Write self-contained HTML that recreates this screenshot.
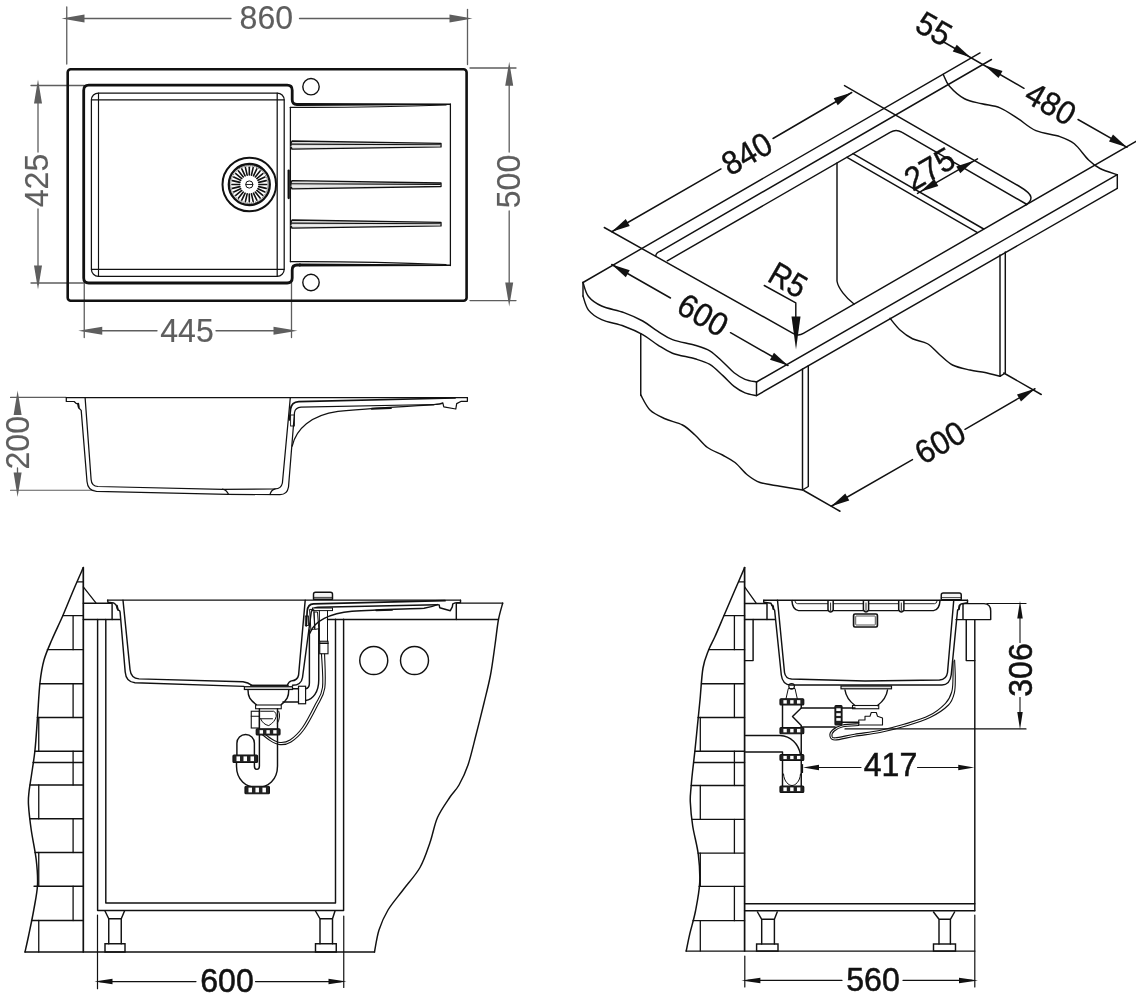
<!DOCTYPE html>
<html><head><meta charset="utf-8"><title>Sink technical drawing</title>
<style>
html,body{margin:0;padding:0;background:#fff;}
svg{display:block;will-change:transform;}
text{font-family:"Liberation Sans",sans-serif;}
path,line,polyline{stroke-linecap:round;stroke-linejoin:round;}
</style></head><body>
<svg width="1136" height="1000" viewBox="0 0 1136 1000">
<rect x="0" y="0" width="1136" height="1000" fill="#fff"/>
<line x1="66.75" y1="7.00" x2="66.75" y2="64.00" stroke="#5e5e5e" stroke-width="1.3" />
<line x1="467.50" y1="9.50" x2="467.50" y2="64.50" stroke="#5e5e5e" stroke-width="1.3" />
<line x1="70.00" y1="18.50" x2="231.00" y2="18.50" stroke="#5e5e5e" stroke-width="1.3" />
<line x1="299.50" y1="18.50" x2="465.00" y2="18.50" stroke="#5e5e5e" stroke-width="1.3" />
<polygon points="61.50,18.50 84.50,14.50 84.50,22.50" fill="#5e5e5e"/>
<polygon points="472.50,18.50 449.50,22.50 449.50,14.50" fill="#5e5e5e"/>
<text transform="translate(266.30,17.30) rotate(0)" x="0" y="11.73" text-anchor="middle" font-size="34" fill="#5e5e5e" stroke="#5e5e5e" stroke-width="0.15" font-weight="normal" textLength="53.5" lengthAdjust="spacingAndGlyphs">860</text>
<line x1="38.00" y1="85.00" x2="38.00" y2="152.00" stroke="#5e5e5e" stroke-width="1.3" />
<line x1="38.00" y1="209.00" x2="38.00" y2="284.00" stroke="#5e5e5e" stroke-width="1.3" />
<polygon points="38.00,79.50 42.00,103.50 34.00,103.50" fill="#5e5e5e"/>
<polygon points="38.00,289.50 34.00,265.50 42.00,265.50" fill="#5e5e5e"/>
<line x1="31.00" y1="85.50" x2="84.00" y2="85.50" stroke="#5e5e5e" stroke-width="1.3" />
<line x1="31.00" y1="283.00" x2="84.00" y2="283.00" stroke="#5e5e5e" stroke-width="1.3" />
<text transform="translate(35.80,180.50) rotate(-90)" x="0" y="11.73" text-anchor="middle" font-size="34" fill="#5e5e5e" stroke="#5e5e5e" stroke-width="0.15" font-weight="normal" textLength="53.5" lengthAdjust="spacingAndGlyphs">425</text>
<line x1="84.25" y1="283.00" x2="84.25" y2="337.50" stroke="#5e5e5e" stroke-width="1.3" />
<line x1="291.50" y1="283.00" x2="291.50" y2="337.50" stroke="#5e5e5e" stroke-width="1.3" />
<line x1="90.00" y1="330.75" x2="157.00" y2="330.75" stroke="#5e5e5e" stroke-width="1.3" />
<line x1="216.00" y1="330.75" x2="290.00" y2="330.75" stroke="#5e5e5e" stroke-width="1.3" />
<polygon points="78.25,330.75 102.25,326.75 102.25,334.75" fill="#5e5e5e"/>
<polygon points="297.50,330.75 273.50,334.75 273.50,326.75" fill="#5e5e5e"/>
<text transform="translate(187.00,330.70) rotate(0)" x="0" y="11.73" text-anchor="middle" font-size="34" fill="#5e5e5e" stroke="#5e5e5e" stroke-width="0.15" font-weight="normal" textLength="53.5" lengthAdjust="spacingAndGlyphs">445</text>
<line x1="509.20" y1="68.00" x2="509.20" y2="152.00" stroke="#5e5e5e" stroke-width="1.3" />
<line x1="509.20" y1="211.00" x2="509.20" y2="300.00" stroke="#5e5e5e" stroke-width="1.3" />
<polygon points="509.20,61.80 513.20,85.80 505.20,85.80" fill="#5e5e5e"/>
<polygon points="509.20,306.50 505.20,282.50 513.20,282.50" fill="#5e5e5e"/>
<line x1="470.00" y1="68.00" x2="516.00" y2="68.00" stroke="#5e5e5e" stroke-width="1.3" />
<line x1="470.00" y1="300.60" x2="516.00" y2="300.60" stroke="#5e5e5e" stroke-width="1.3" />
<text transform="translate(508.50,181.50) rotate(-90)" x="0" y="11.73" text-anchor="middle" font-size="34" fill="#5e5e5e" stroke="#5e5e5e" stroke-width="0.15" font-weight="normal" textLength="53.5" lengthAdjust="spacingAndGlyphs">500</text>
<rect x="67.70" y="69.30" width="398.90" height="231.40" rx="3" stroke="#111" stroke-width="2.6" fill="none"/>
<path d="M300,104.5 L297,104.5 Q292.2,104.5 292.2,99.8 L292.2,90.2 Q292.2,85.2 287.2,85.2 L88.8,85.2 Q83.7,85.2 83.7,90.2 L83.7,278 Q83.7,283 88.8,283 L287.2,283 Q292.2,283 292.2,278 L292.2,270 Q292.2,265 297,265 L300,265" stroke="#111" stroke-width="2.8" fill="none" />
<polygon points="299,103.1 450.9,103.6 450.9,105 299,105.9" fill="#111"/>
<polygon points="299,263.6 450.9,264.6 450.9,266 299,266.4" fill="#111"/>
<path d="M290.4,107.4 Q370,107.8 446,105" stroke="#111" stroke-width="1.2" fill="none" />
<path d="M290.4,261.6 Q370,261.3 446,264.5" stroke="#111" stroke-width="1.2" fill="none" />
<line x1="290.40" y1="107.30" x2="290.40" y2="261.70" stroke="#111" stroke-width="1.25" />
<line x1="450.40" y1="104.00" x2="450.40" y2="265.50" stroke="#111" stroke-width="1.25" />
<rect x="91.40" y="93.00" width="192.80" height="183.30" rx="7" stroke="#111" stroke-width="1.25" fill="none"/>
<line x1="98.50" y1="93.00" x2="98.50" y2="276.30" stroke="#111" stroke-width="1.15" />
<line x1="277.20" y1="93.00" x2="277.20" y2="276.30" stroke="#111" stroke-width="1.25" />
<line x1="91.40" y1="99.80" x2="284.20" y2="99.80" stroke="#111" stroke-width="1.15" />
<line x1="91.40" y1="269.30" x2="284.20" y2="269.30" stroke="#111" stroke-width="1.15" />
<circle cx="311.00" cy="86.70" r="8.20" stroke="#111" stroke-width="1.4" fill="none" />
<circle cx="311.00" cy="282.50" r="8.20" stroke="#111" stroke-width="1.4" fill="none" />
<line x1="288.70" y1="170.60" x2="288.70" y2="198.00" stroke="#111" stroke-width="2.3" />
<path d="M292,141 L441,143.4 L441,146.9 L292,149.2 Q289.6,145 292,141 Z" stroke="#111" stroke-width="1.35" fill="#dcdcdc" />
<line x1="291.00" y1="144.10" x2="440.00" y2="144.80" stroke="#111" stroke-width="1.1" />
<line x1="291.00" y1="146.60" x2="440.00" y2="145.90" stroke="#fff" stroke-width="0.6" />
<path d="M292,180.6 L441,183.0 L441,186.5 L292,188.79999999999998 Q289.6,184.6 292,180.6 Z" stroke="#111" stroke-width="1.35" fill="#dcdcdc" />
<line x1="291.00" y1="183.70" x2="440.00" y2="184.40" stroke="#111" stroke-width="1.1" />
<line x1="291.00" y1="186.20" x2="440.00" y2="185.50" stroke="#fff" stroke-width="0.6" />
<path d="M292,220 L441,222.4 L441,225.9 L292,228.2 Q289.6,224 292,220 Z" stroke="#111" stroke-width="1.35" fill="#dcdcdc" />
<line x1="291.00" y1="223.10" x2="440.00" y2="223.80" stroke="#111" stroke-width="1.1" />
<line x1="291.00" y1="225.60" x2="440.00" y2="224.90" stroke="#fff" stroke-width="0.6" />
<circle cx="249.30" cy="184.50" r="26.80" stroke="#111" stroke-width="2" fill="none" />
<circle cx="249.30" cy="184.50" r="20.50" stroke="#111" stroke-width="2.3" fill="none" />
<circle cx="249.30" cy="184.50" r="18.60" stroke="#111" stroke-width="0.7" fill="none" stroke-dasharray="1.2 0.8"/>
<line x1="258.90" y1="184.50" x2="266.60" y2="184.50" stroke="#111" stroke-width="1.6" />
<line x1="258.66" y1="186.64" x2="266.17" y2="188.35" stroke="#111" stroke-width="1.6" />
<line x1="257.95" y1="188.67" x2="264.89" y2="192.01" stroke="#111" stroke-width="1.6" />
<line x1="256.81" y1="190.49" x2="262.83" y2="195.29" stroke="#111" stroke-width="1.6" />
<line x1="255.29" y1="192.01" x2="260.09" y2="198.03" stroke="#111" stroke-width="1.6" />
<line x1="253.47" y1="193.15" x2="256.81" y2="200.09" stroke="#111" stroke-width="1.6" />
<line x1="251.44" y1="193.86" x2="253.15" y2="201.37" stroke="#111" stroke-width="1.6" />
<line x1="249.30" y1="194.10" x2="249.30" y2="201.80" stroke="#111" stroke-width="1.6" />
<line x1="247.16" y1="193.86" x2="245.45" y2="201.37" stroke="#111" stroke-width="1.6" />
<line x1="245.13" y1="193.15" x2="241.79" y2="200.09" stroke="#111" stroke-width="1.6" />
<line x1="243.31" y1="192.01" x2="238.51" y2="198.03" stroke="#111" stroke-width="1.6" />
<line x1="241.79" y1="190.49" x2="235.77" y2="195.29" stroke="#111" stroke-width="1.6" />
<line x1="240.65" y1="188.67" x2="233.71" y2="192.01" stroke="#111" stroke-width="1.6" />
<line x1="239.94" y1="186.64" x2="232.43" y2="188.35" stroke="#111" stroke-width="1.6" />
<line x1="239.70" y1="184.50" x2="232.00" y2="184.50" stroke="#111" stroke-width="1.6" />
<line x1="239.94" y1="182.36" x2="232.43" y2="180.65" stroke="#111" stroke-width="1.6" />
<line x1="240.65" y1="180.33" x2="233.71" y2="176.99" stroke="#111" stroke-width="1.6" />
<line x1="241.79" y1="178.51" x2="235.77" y2="173.71" stroke="#111" stroke-width="1.6" />
<line x1="243.31" y1="176.99" x2="238.51" y2="170.97" stroke="#111" stroke-width="1.6" />
<line x1="245.13" y1="175.85" x2="241.79" y2="168.91" stroke="#111" stroke-width="1.6" />
<line x1="247.16" y1="175.14" x2="245.45" y2="167.63" stroke="#111" stroke-width="1.6" />
<line x1="249.30" y1="174.90" x2="249.30" y2="167.20" stroke="#111" stroke-width="1.6" />
<line x1="251.44" y1="175.14" x2="253.15" y2="167.63" stroke="#111" stroke-width="1.6" />
<line x1="253.47" y1="175.85" x2="256.81" y2="168.91" stroke="#111" stroke-width="1.6" />
<line x1="255.29" y1="176.99" x2="260.09" y2="170.97" stroke="#111" stroke-width="1.6" />
<line x1="256.81" y1="178.51" x2="262.83" y2="173.71" stroke="#111" stroke-width="1.6" />
<line x1="257.95" y1="180.33" x2="264.89" y2="176.99" stroke="#111" stroke-width="1.6" />
<line x1="258.66" y1="182.36" x2="266.17" y2="180.65" stroke="#111" stroke-width="1.6" />
<circle cx="249.30" cy="184.50" r="3.60" stroke="#111" stroke-width="1" fill="none" />
<line x1="245.90" y1="184.50" x2="252.70" y2="184.50" stroke="#111" stroke-width="0.9" />
<polygon points="17.60,390.40 21.60,414.90 13.60,414.90" fill="#5e5e5e"/>
<polygon points="17.60,497.00 13.60,472.50 21.60,472.50" fill="#5e5e5e"/>
<line x1="10.50" y1="397.40" x2="66.00" y2="397.40" stroke="#5e5e5e" stroke-width="1.1" />
<line x1="10.50" y1="490.30" x2="94.00" y2="490.30" stroke="#5e5e5e" stroke-width="1.1" />
<line x1="17.50" y1="468.00" x2="17.50" y2="474.00" stroke="#5e5e5e" stroke-width="1.3" />
<text transform="translate(17.60,442.75) rotate(-90)" x="0" y="11.73" text-anchor="middle" font-size="34" fill="#5e5e5e" stroke="#5e5e5e" stroke-width="0.15" font-weight="normal" textLength="53.5" lengthAdjust="spacingAndGlyphs">200</text>
<line x1="66.25" y1="397.60" x2="467.40" y2="397.60" stroke="#111" stroke-width="1.25" />
<path d="M66.3,397.6 L66.3,401.4 L74.1,401.5 L76,403.3 L78,403.9 L78.6,407.8 L81.2,410.4 L87,481.5 Q87.8,490.8 96.5,491.4 L228,494.4 L280,494.6 Q287.3,494.6 288.5,487 L294.5,412.5 Q295.3,407.6 301,407.2 L434,404.5 Q440.5,404.3 442.8,402.9 L443.8,406.8 L455.8,409 L456.7,403.6 L461.3,401.3 L467.4,401.3 L467.4,397.6" stroke="#111" stroke-width="1.25" fill="none" />
<line x1="78.20" y1="403.60" x2="78.80" y2="407.20" stroke="#111" stroke-width="1.9" />
<path d="M85.1,397.6 L91.1,479.5 Q91.6,486.2 98,486.5 L222.5,489.3 L275,488.9 Q281.3,488.6 282.4,483 L290.3,397.6" stroke="#111" stroke-width="1.25" fill="none" />
<path d="M289.4,420 L290.6,409 Q291.5,402 298.8,401.6 L455,398" stroke="#111" stroke-width="1.7" fill="none" />
<path d="M222.5,489.2 Q226.5,490 228.5,494.3" stroke="#111" stroke-width="1.25" fill="none" />
<path d="M275,488.9 Q271.3,490 270,494.5" stroke="#111" stroke-width="1.25" fill="none" />
<path d="M292.2,446 C296,429 311,415 338,411.3 C368,408.3 400,406.6 434,404.8" stroke="#111" stroke-width="1.25" fill="none" />
<line x1="371.70" y1="408.70" x2="391.00" y2="408.10" stroke="#111" stroke-width="1.9" />
<rect x="290.60" y="415.00" width="3.80" height="11.00" rx="0" stroke="#111" stroke-width="0.9" fill="none"/>
<line x1="583.00" y1="282.50" x2="980.00" y2="52.90" stroke="#111" stroke-width="1.45" />
<line x1="756.50" y1="382.00" x2="1117.30" y2="174.70" stroke="#111" stroke-width="1.45" />
<line x1="756.50" y1="395.60" x2="1117.30" y2="188.30" stroke="#111" stroke-width="1.45" />
<line x1="756.50" y1="382.00" x2="756.50" y2="395.60" stroke="#111" stroke-width="1.45" />
<line x1="1117.30" y1="174.70" x2="1117.30" y2="188.30" stroke="#111" stroke-width="1.45" />
<line x1="583.00" y1="282.50" x2="583.00" y2="296.10" stroke="#111" stroke-width="1.45" />
<path d="M583.00,282.50 C583.92,284.83 585.40,292.58 588.50,296.50 C591.60,300.42 595.68,303.32 601.60,306.00 C607.52,308.68 617.15,310.10 624.00,312.60 C630.85,315.10 637.10,317.90 642.70,321.00 C648.30,324.10 652.63,328.10 657.60,331.20 C662.57,334.30 666.28,337.27 672.50,339.60 C678.72,341.93 688.68,343.33 694.90,345.20 C701.12,347.07 705.13,348.00 709.80,350.80 C714.47,353.60 718.85,358.33 722.90,362.00 C726.95,365.67 730.42,369.92 734.10,372.80 C737.78,375.68 741.27,377.77 745.00,379.30 C748.73,380.83 754.58,381.55 756.50,382.00" stroke="#111" stroke-width="1.45" fill="none" />
<path d="M583.00,296.10 C583.92,298.43 585.40,306.18 588.50,310.10 C591.60,314.02 595.68,316.92 601.60,319.60 C607.52,322.28 617.15,323.70 624.00,326.20 C630.85,328.70 637.10,331.50 642.70,334.60 C648.30,337.70 652.63,341.70 657.60,344.80 C662.57,347.90 666.28,350.87 672.50,353.20 C678.72,355.53 688.68,356.93 694.90,358.80 C701.12,360.67 705.13,361.60 709.80,364.40 C714.47,367.20 718.85,371.93 722.90,375.60 C726.95,379.27 730.42,383.52 734.10,386.40 C737.78,389.28 741.27,391.37 745.00,392.90 C748.73,394.43 754.58,395.15 756.50,395.60" stroke="#111" stroke-width="1.45" fill="none" />
<path d="M943.25,74.50 C944.29,76.46 945.96,82.21 949.50,86.25 C953.04,90.29 959.08,95.83 964.50,98.75 C969.92,101.67 976.08,102.22 982.00,103.75 C987.92,105.28 994.00,105.41 1000.00,107.90 C1006.00,110.39 1012.02,114.90 1018.00,118.70 C1023.98,122.50 1028.92,127.72 1035.90,130.70 C1042.88,133.68 1053.50,134.42 1059.90,136.60 C1066.30,138.78 1069.52,139.90 1074.30,143.80 C1079.08,147.70 1084.32,155.88 1088.60,160.00 C1092.88,164.12 1095.22,166.05 1100.00,168.50 C1104.78,170.95 1114.42,173.67 1117.30,174.70" stroke="#111" stroke-width="1.45" fill="none" />
<line x1="660.50" y1="251.10" x2="991.50" y2="59.50" stroke="#111" stroke-width="1.45" />
<path d="M655.9,256.3 Q655.4,252.9 660.5,251.1" stroke="#111" stroke-width="1.45" fill="none" />
<path d="M604.25,227.5 L793,333.3 Q798.2,336.5 803.4,333.3 L1136,141.3" stroke="#111" stroke-width="1.45" fill="none" />
<path d="M844.5,85.6 L1018.8,186 C1026.9,190.8 1031,194.5 1031,197.5 C1031,200.5 1029,203 1025.6,205.1" stroke="#111" stroke-width="1.45" fill="none" />
<path d="M667.3,260.8 L890.5,132.2 Q896.1,128.6 901.7,132.2 L1027,204.5" stroke="#111" stroke-width="1.45" fill="none" />
<line x1="853.00" y1="153.60" x2="983.70" y2="229.00" stroke="#111" stroke-width="1.45" />
<line x1="847.00" y1="157.30" x2="977.50" y2="232.60" stroke="#111" stroke-width="1.45" />
<path d="M837,163 L837,281 C838,288 846,298 854,304" stroke="#111" stroke-width="1.45" fill="none" />
<line x1="640.75" y1="333.60" x2="640.75" y2="395.00" stroke="#111" stroke-width="1.45" />
<path d="M640.75,395.00 C642.29,397.50 645.96,406.04 650.00,410.00 C654.04,413.96 659.58,416.25 665.00,418.75 C670.42,421.25 677.50,422.29 682.50,425.00 C687.50,427.71 690.83,431.25 695.00,435.00 C699.17,438.75 702.92,444.17 707.50,447.50 C712.08,450.83 717.92,452.50 722.50,455.00 C727.08,457.50 730.83,459.17 735.00,462.50 C739.17,465.83 743.33,471.67 747.50,475.00 C751.67,478.33 754.58,480.62 760.00,482.50 C765.42,484.38 772.92,485.00 780.00,486.25 C787.08,487.50 798.75,489.38 802.50,490.00" stroke="#111" stroke-width="1.45" fill="none" />
<path d="M802.5,369 L802.5,490 L808.3,486.5 L808.3,365.7" stroke="#111" stroke-width="1.45" fill="none" />
<path d="M1000,255 L1000,376.3 L1005.3,373 L1005.3,252" stroke="#111" stroke-width="1.45" fill="none" />
<path d="M890.00,318.30 C891.67,320.25 896.25,326.59 900.00,330.00 C903.75,333.41 907.92,336.46 912.50,338.75 C917.08,341.04 922.92,341.04 927.50,343.75 C932.08,346.46 935.83,351.46 940.00,355.00 C944.17,358.54 947.50,362.50 952.50,365.00 C957.50,367.50 964.58,368.75 970.00,370.00 C975.42,371.25 980.00,371.45 985.00,372.50 C990.00,373.55 997.50,375.67 1000.00,376.30" stroke="#111" stroke-width="1.45" fill="none" />
<line x1="803.75" y1="490.50" x2="840.00" y2="511.25" stroke="#111" stroke-width="1.45" />
<line x1="1003.75" y1="373.00" x2="1041.25" y2="394.50" stroke="#111" stroke-width="1.45" />
<line x1="831.25" y1="506.25" x2="912.50" y2="459.60" stroke="#111" stroke-width="1.45" />
<line x1="965.00" y1="429.30" x2="1035.00" y2="388.75" stroke="#111" stroke-width="1.45" />
<polygon points="831.25,506.25 845.27,493.54 849.27,500.46" fill="#111"/>
<polygon points="1035.00,388.75 1020.98,401.46 1016.98,394.54" fill="#111"/>
<text transform="translate(940.00,442.50) rotate(-30)" x="0" y="11.38" text-anchor="middle" font-size="33" fill="#111" stroke="#111" stroke-width="0.4" font-weight="normal" textLength="52" lengthAdjust="spacingAndGlyphs">600</text>
<line x1="611.75" y1="264.50" x2="670.50" y2="298.00" stroke="#111" stroke-width="1.45" />
<line x1="730.50" y1="332.70" x2="788.00" y2="365.50" stroke="#111" stroke-width="1.45" />
<polygon points="611.75,264.50 629.77,270.29 625.77,277.21" fill="#111"/>
<polygon points="788.00,365.50 769.98,359.71 773.98,352.79" fill="#111"/>
<text transform="translate(703.00,315.00) rotate(30)" x="0" y="11.38" text-anchor="middle" font-size="33" fill="#111" stroke="#111" stroke-width="0.4" font-weight="normal" textLength="52" lengthAdjust="spacingAndGlyphs">600</text>
<line x1="611.75" y1="231.75" x2="721.00" y2="168.90" stroke="#111" stroke-width="1.45" />
<line x1="773.00" y1="138.50" x2="851.75" y2="92.50" stroke="#111" stroke-width="1.45" />
<polygon points="611.75,231.75 625.77,219.04 629.77,225.96" fill="#111"/>
<polygon points="851.75,92.50 837.73,105.21 833.73,98.29" fill="#111"/>
<text transform="translate(746.75,153.75) rotate(-30)" x="0" y="11.38" text-anchor="middle" font-size="33" fill="#111" stroke="#111" stroke-width="0.4" font-weight="normal" textLength="52" lengthAdjust="spacingAndGlyphs">840</text>
<line x1="942.00" y1="41.00" x2="1024.00" y2="88.30" stroke="#111" stroke-width="1.45" />
<line x1="1078.00" y1="119.50" x2="1127.00" y2="147.30" stroke="#111" stroke-width="1.45" />
<polygon points="970.75,57.40 952.73,51.61 956.73,44.69" fill="#111"/>
<polygon points="984.50,65.30 1002.52,71.09 998.52,78.01" fill="#111"/>
<polygon points="1127.00,147.30 1108.98,141.51 1112.98,134.59" fill="#111"/>
<text transform="translate(934.00,28.60) rotate(30)" x="0" y="11.38" text-anchor="middle" font-size="33" fill="#111" stroke="#111" stroke-width="0.4" font-weight="normal" textLength="35" lengthAdjust="spacingAndGlyphs">55</text>
<text transform="translate(1050.75,103.75) rotate(30)" x="0" y="11.38" text-anchor="middle" font-size="33" fill="#111" stroke="#111" stroke-width="0.4" font-weight="normal" textLength="52" lengthAdjust="spacingAndGlyphs">480</text>
<line x1="917.50" y1="193.40" x2="977.50" y2="158.80" stroke="#111" stroke-width="1.45" />
<polygon points="920.30,191.80 934.32,179.09 938.32,186.01" fill="#111"/>
<polygon points="974.30,160.60 960.28,173.31 956.28,166.39" fill="#111"/>
<text transform="translate(929.60,168.80) rotate(-30)" x="0" y="11.38" text-anchor="middle" font-size="33" fill="#111" stroke="#111" stroke-width="0.4" font-weight="normal" textLength="52" lengthAdjust="spacingAndGlyphs">275</text>
<path d="M764.25,285.5 L795.8,302.9 L795.8,318" stroke="#111" stroke-width="1.45" fill="none" />
<polygon points="796.00,349.50 791.50,316.50 800.50,316.50" fill="#111"/>
<text transform="translate(788.00,280.00) rotate(30)" x="0" y="11.38" text-anchor="middle" font-size="33" fill="#111" stroke="#111" stroke-width="0.4" font-weight="normal" textLength="37.5" lengthAdjust="spacingAndGlyphs">R5</text>
<line x1="83.30" y1="567.50" x2="83.30" y2="952.00" stroke="#111" stroke-width="1.7" />
<path d="M83.30,567.60 C81.67,571.33 76.90,582.02 73.50,590.00 C70.10,597.98 66.48,607.25 62.90,615.50 C59.32,623.75 55.15,632.08 52.00,639.50 C48.85,646.92 46.00,652.83 44.00,660.00 C42.00,667.17 41.08,672.92 40.00,682.50 C38.92,692.08 38.33,706.25 37.50,717.50 C36.67,728.75 36.00,740.42 35.00,750.00 C34.00,759.58 32.50,768.00 31.50,775.00 C30.50,782.00 29.50,787.00 29.00,792.00 C28.50,797.00 28.12,798.67 28.50,805.00 C28.88,811.33 29.96,820.83 31.25,830.00 C32.54,839.17 35.21,850.83 36.25,860.00 C37.29,869.17 37.92,876.67 37.50,885.00 C37.08,893.33 35.21,901.67 33.75,910.00 C32.29,918.33 30.21,928.00 28.75,935.00 C27.29,942.00 25.62,949.17 25.00,952.00" stroke="#111" stroke-width="1.5" fill="none" />
<line x1="62.90" y1="615.70" x2="83.30" y2="615.70" stroke="#111" stroke-width="1.3" />
<line x1="47.30" y1="649.70" x2="83.30" y2="649.70" stroke="#111" stroke-width="1.3" />
<line x1="40.00" y1="683.75" x2="83.30" y2="683.75" stroke="#111" stroke-width="1.3" />
<line x1="37.30" y1="717.50" x2="83.30" y2="717.50" stroke="#111" stroke-width="1.3" />
<line x1="34.80" y1="751.25" x2="83.30" y2="751.25" stroke="#111" stroke-width="1.3" />
<line x1="33.00" y1="762.50" x2="83.30" y2="762.50" stroke="#111" stroke-width="1.3" />
<line x1="30.00" y1="785.00" x2="83.30" y2="785.00" stroke="#111" stroke-width="1.3" />
<line x1="29.70" y1="818.75" x2="83.30" y2="818.75" stroke="#111" stroke-width="1.3" />
<line x1="35.00" y1="852.50" x2="83.30" y2="852.50" stroke="#111" stroke-width="1.3" />
<line x1="34.00" y1="886.25" x2="83.30" y2="886.25" stroke="#111" stroke-width="1.3" />
<line x1="31.50" y1="920.50" x2="83.30" y2="920.50" stroke="#111" stroke-width="1.3" />
<line x1="73.10" y1="615.70" x2="73.10" y2="649.70" stroke="#111" stroke-width="1.3" />
<line x1="73.10" y1="683.75" x2="73.10" y2="717.50" stroke="#111" stroke-width="1.3" />
<line x1="73.10" y1="751.25" x2="73.10" y2="785.00" stroke="#111" stroke-width="1.3" />
<line x1="73.10" y1="818.75" x2="73.10" y2="852.50" stroke="#111" stroke-width="1.3" />
<line x1="73.10" y1="886.25" x2="73.10" y2="920.50" stroke="#111" stroke-width="1.3" />
<line x1="38.75" y1="717.50" x2="38.75" y2="751.25" stroke="#111" stroke-width="1.3" />
<line x1="38.75" y1="785.00" x2="38.75" y2="818.75" stroke="#111" stroke-width="1.3" />
<line x1="38.75" y1="852.50" x2="38.75" y2="886.25" stroke="#111" stroke-width="1.3" />
<line x1="38.75" y1="920.50" x2="38.75" y2="952.00" stroke="#111" stroke-width="1.3" />
<line x1="77.40" y1="581.80" x2="83.30" y2="581.80" stroke="#111" stroke-width="1.2" />
<line x1="83.30" y1="586.90" x2="95.90" y2="602.90" stroke="#111" stroke-width="1.3" />
<line x1="25.00" y1="952.00" x2="374.50" y2="952.00" stroke="#111" stroke-width="1.4" />
<path d="M83.3,603.2 L112.1,603.2 L112.1,619.4" stroke="#111" stroke-width="1.45" fill="none" />
<line x1="83.30" y1="619.40" x2="120.10" y2="619.40" stroke="#111" stroke-width="1.45" />
<path d="M97.6,619.4 L97.6,910.5 L343.6,910.5 L343.6,619.3" stroke="#111" stroke-width="1.45" fill="none" />
<path d="M105.8,619.4 L105.8,903 L335.5,903 L335.5,619.3" stroke="#111" stroke-width="1.45" fill="none" />
<line x1="327.50" y1="619.40" x2="498.40" y2="619.40" stroke="#111" stroke-width="1.45" />
<path d="M456.3,619.4 L456.3,603.1 L502.7,603.1" stroke="#111" stroke-width="1.45" fill="none" />
<path d="M502.70,603.10 C501.98,605.92 499.68,613.02 498.40,620.00 C497.12,626.98 496.32,635.83 495.00,645.00 C493.68,654.17 492.33,665.33 490.50,675.00 C488.67,684.67 486.42,693.00 484.00,703.00 C481.58,713.00 478.67,724.67 476.00,735.00 C473.33,745.33 470.83,756.67 468.00,765.00 C465.17,773.33 462.00,779.67 459.00,785.00 C456.00,790.33 453.58,791.58 450.00,797.00 C446.42,802.42 440.83,809.92 437.50,817.50 C434.17,825.08 432.92,834.17 430.00,842.50 C427.08,850.83 424.50,859.58 420.00,867.50 C415.50,875.42 408.33,882.92 403.00,890.00 C397.67,897.08 392.00,903.33 388.00,910.00 C384.00,916.67 381.25,923.00 379.00,930.00 C376.75,937.00 375.25,948.33 374.50,952.00" stroke="#111" stroke-width="1.45" fill="none" />
<path d="M105,911 L108.75,918.75 L108.75,943.75 M124.5,911 L121.25,918.75 L121.25,943.75 M108.75,918.75 L121.25,918.75" stroke="#111" stroke-width="1.45" fill="none" />
<rect x="105.00" y="943.75" width="20.00" height="8.25" rx="0" stroke="#111" stroke-width="1.45" fill="none"/>
<path d="M315.5,911 L320,918.75 L320,943.75 M335,911 L332.5,918.75 L332.5,943.75 M320,918.75 L332.5,918.75" stroke="#111" stroke-width="1.45" fill="none" />
<rect x="315.50" y="943.75" width="20.75" height="8.25" rx="0" stroke="#111" stroke-width="1.45" fill="none"/>
<circle cx="373.75" cy="660.50" r="14.00" stroke="#111" stroke-width="1.45" fill="none" />
<circle cx="414.50" cy="660.50" r="14.00" stroke="#111" stroke-width="1.45" fill="none" />
<line x1="97.50" y1="915.00" x2="97.50" y2="988.75" stroke="#111" stroke-width="1.2" />
<line x1="343.75" y1="916.00" x2="343.75" y2="987.50" stroke="#111" stroke-width="1.2" />
<line x1="100.00" y1="981.60" x2="196.00" y2="981.60" stroke="#111" stroke-width="1.15" />
<line x1="255.50" y1="981.60" x2="341.00" y2="981.60" stroke="#111" stroke-width="1.15" />
<polygon points="94.50,981.60 112.50,978.85 112.50,984.35" fill="#111"/>
<polygon points="346.50,981.60 328.50,984.35 328.50,978.85" fill="#111"/>
<text transform="translate(227.00,979.90) rotate(0)" x="0" y="11.73" text-anchor="middle" font-size="34" fill="#111" stroke="#111" stroke-width="0.55" font-weight="normal" textLength="53.5" lengthAdjust="spacingAndGlyphs">600</text>
<line x1="108.00" y1="600.10" x2="460.50" y2="600.10" stroke="#111" stroke-width="1.45" />
<path d="M107.6,600.1 L108,602.3 L113.5,602.9 L115.7,604.5 L116.8,606.7 L117.9,610 L119.6,610.6 L120.1,612.2 L125.2,672 Q126,682 135,682.7 L244,686.4" stroke="#111" stroke-width="1.45" fill="none" />
<line x1="116.90" y1="605.60" x2="117.80" y2="609.40" stroke="#111" stroke-width="1.9" />
<path d="M123,600.3 L130,669.5 Q131,678.4 139,678.9 L243,681.7 Q248,682.5 252,685.4 L287.3,685.2 Q288.8,681.4 291.5,680.9 Q297.6,680.4 298.6,675 L305.2,600.3" stroke="#111" stroke-width="1.45" fill="none" />
<path d="M306.3,626 L307.2,611 Q307.8,604 313.5,603.8 L445,600.7" stroke="#111" stroke-width="1.7" fill="none" />
<line x1="251.00" y1="685.50" x2="288.00" y2="685.50" stroke="#111" stroke-width="1.6" />
<path d="M292.5,685.3 Q301.3,685.3 302.5,677.5 L311.2,612.5 Q312,607.6 318,607.2 L437.3,604.7 L439.2,604.9 L439.7,607.7 L450.3,610.7 L452.3,606.8 L452.8,603.9 L455.2,602.9 L460.5,602.5 L460.5,600.3" stroke="#111" stroke-width="1.45" fill="none" />
<path d="M310,633 C314,621 330,613.2 352,611.2 C375,609.6 405,609 424,608.2 Q432,607 437.3,604.6" stroke="#111" stroke-width="1.45" fill="none" />
<line x1="376.00" y1="610.30" x2="392.00" y2="609.90" stroke="#111" stroke-width="1.7" />
<path d="M313.5,599.2 L313.5,594.2 Q313.5,592.2 315.5,592.2 L330.5,592.2 Q332.5,592.2 332.5,594.2 L332.5,599.2 Z" stroke="#111" stroke-width="1.45" fill="#f4f4f4" />
<line x1="313.50" y1="597.40" x2="332.50" y2="597.40" stroke="#111" stroke-width="0.8" />
<rect x="312.50" y="608.00" width="20.00" height="2.60" rx="0" stroke="#111" stroke-width="1" fill="#fff"/>
<path d="M310.00,609.40 L313.75,609.40 L315.00,628.75 L311.25,630.00 Z" stroke="#111" stroke-width="1" fill="none" />
<path d="M314.40,612.00 L317.50,612.00 L318.75,628.75 L315.00,629.40 Z" stroke="#111" stroke-width="1" fill="none" />
<rect x="305.30" y="616.00" width="3.20" height="9.50" rx="0" stroke="#111" stroke-width="0.9" fill="none"/>
<line x1="319.40" y1="610.60" x2="319.40" y2="641.20" stroke="#111" stroke-width="1" />
<line x1="327.50" y1="610.60" x2="327.50" y2="641.20" stroke="#111" stroke-width="1" />
<rect x="319.75" y="641.25" width="8.25" height="12.50" rx="0" stroke="#111" stroke-width="1.1" fill="none"/>
<line x1="319.75" y1="643.20" x2="328.00" y2="643.20" stroke="#111" stroke-width="1.6" />
<path d="M321.50,654.00 C321.67,659.58 323.58,679.00 322.50,687.50 C321.42,696.00 318.33,698.33 315.00,705.00 C311.67,711.67 306.67,721.67 302.50,727.50 C298.33,733.33 293.75,737.50 290.00,740.00 C286.25,742.50 283.12,742.71 280.00,742.50 C276.88,742.29 274.79,740.93 271.25,738.75 C267.71,736.57 260.83,730.96 258.75,729.40" stroke="#111" stroke-width="1.1" fill="none" />
<path d="M324.60,654.00 C324.63,659.67 326.07,679.25 324.80,688.00 C323.53,696.75 320.47,699.58 317.00,706.50 C313.53,713.42 308.33,723.58 304.00,729.50 C299.67,735.42 295.00,739.48 291.00,742.00 C287.00,744.52 283.47,744.83 280.00,744.60 C276.53,744.37 273.87,742.87 270.20,740.60 C266.53,738.33 260.03,732.60 258.00,731.00" stroke="#111" stroke-width="1.1" fill="none" />
<path d="M318.75,628.75 L318.75,680 C318.75,692 313,699.5 305.6,700.5" stroke="#111" stroke-width="1.45" fill="none" />
<path d="M309.4,630 L309.4,683 C309.4,686 308,688.5 305.6,688.75" stroke="#111" stroke-width="1.45" fill="none" />
<rect x="298.50" y="686.25" width="7.10" height="17.50" rx="0" stroke="#111" stroke-width="1.2" fill="none"/>
<line x1="292.50" y1="688.75" x2="298.50" y2="688.75" stroke="#111" stroke-width="1.45" />
<line x1="283.00" y1="701.90" x2="298.50" y2="701.90" stroke="#111" stroke-width="1.45" />
<rect x="244.40" y="686.70" width="48.10" height="2.80" rx="0" stroke="#111" stroke-width="1.2" fill="#ddd"/>
<path d="M248,690 C248,697 250,700 256.25,704.6" stroke="#111" stroke-width="1.45" fill="none" />
<path d="M288.75,690 C288.75,697 287,700 281.25,704.6" stroke="#111" stroke-width="1.45" fill="none" />
<rect x="255.60" y="705.00" width="25.65" height="3.75" rx="0" stroke="#111" stroke-width="1.1" fill="none"/>
<rect x="251.25" y="711.25" width="8.15" height="16.75" rx="0" stroke="#111" stroke-width="1.1" fill="none"/>
<line x1="251.25" y1="716.25" x2="259.40" y2="716.25" stroke="#111" stroke-width="1" />
<line x1="259.40" y1="708.75" x2="259.40" y2="728.75" stroke="#111" stroke-width="1.45" />
<line x1="277.50" y1="708.75" x2="277.50" y2="728.75" stroke="#111" stroke-width="1.45" />
<path d="M260.6,711.25 L273.75,711.25 Q277,713 276.25,716.25 Q275,722 268.75,725.6 Q263,724.5 260.6,718.75" stroke="#111" stroke-width="1" fill="none" />
<line x1="260.60" y1="718.75" x2="272.50" y2="718.75" stroke="#111" stroke-width="1" />
<path d="M278.75,711.25 Q281,717 277.5,723" stroke="#111" stroke-width="1" fill="none" />
<rect x="256.25" y="728.75" width="23.75" height="6.25" rx="1" stroke="#111" stroke-width="1.2" fill="#222"/>
<rect x="259.64" y="730.15" width="3.39" height="3.45" fill="#fff"/>
<rect x="266.43" y="730.15" width="3.39" height="3.45" fill="#fff"/>
<rect x="273.21" y="730.15" width="3.39" height="3.45" fill="#fff"/>
<path d="M277.5,735 L277.5,766 C277.5,780 268,787.5 257,787.5 C246,787.5 236.5,780 236.5,766 L236.5,762.5" stroke="#111" stroke-width="1.45" fill="none" />
<path d="M259.4,735 L259.4,766 C259.4,770.5 254.4,770.5 254.4,766 L254.4,762.5" stroke="#111" stroke-width="1.45" fill="none" />
<path d="M236.9,755 L236.9,743.2 A8.75,8.75 0 0 1 254.4,743.2 L254.4,755" stroke="#111" stroke-width="1.45" fill="none" />
<rect x="233.00" y="755.00" width="24.50" height="7.50" rx="1" stroke="#111" stroke-width="1.2" fill="#222"/>
<rect x="236.50" y="756.40" width="3.50" height="4.70" fill="#fff"/>
<rect x="243.50" y="756.40" width="3.50" height="4.70" fill="#fff"/>
<rect x="250.50" y="756.40" width="3.50" height="4.70" fill="#fff"/>
<rect x="245.00" y="786.25" width="24.40" height="7.50" rx="1" stroke="#111" stroke-width="1.2" fill="#222"/>
<rect x="248.49" y="787.65" width="3.49" height="4.70" fill="#fff"/>
<rect x="255.46" y="787.65" width="3.49" height="4.70" fill="#fff"/>
<rect x="262.43" y="787.65" width="3.49" height="4.70" fill="#fff"/>
<line x1="744.60" y1="567.50" x2="744.60" y2="951.00" stroke="#111" stroke-width="1.7" />
<path d="M744.60,567.60 C742.92,571.50 737.93,583.02 734.50,591.00 C731.07,598.98 727.25,607.92 724.00,615.50 C720.75,623.08 717.57,630.75 715.00,636.50 C712.43,642.25 710.60,644.75 708.60,650.00 C706.60,655.25 704.43,659.67 703.00,668.00 C701.57,676.33 700.92,690.50 700.00,700.00 C699.08,709.50 698.33,716.67 697.50,725.00 C696.67,733.33 695.83,742.17 695.00,750.00 C694.17,757.83 693.17,765.67 692.50,772.00 C691.83,778.33 691.37,783.00 691.00,788.00 C690.63,793.00 690.02,795.67 690.30,802.00 C690.58,808.33 691.37,817.25 692.70,826.00 C694.03,834.75 697.13,845.05 698.30,854.50 C699.47,863.95 700.17,873.28 699.70,882.70 C699.23,892.12 697.13,902.55 695.50,911.00 C693.87,919.45 691.45,926.73 689.90,933.40 C688.35,940.07 686.82,948.07 686.20,951.00" stroke="#111" stroke-width="1.5" fill="none" />
<line x1="724.00" y1="615.70" x2="744.60" y2="615.70" stroke="#111" stroke-width="1.3" />
<line x1="708.60" y1="649.70" x2="744.60" y2="649.70" stroke="#111" stroke-width="1.3" />
<line x1="701.50" y1="683.75" x2="744.60" y2="683.75" stroke="#111" stroke-width="1.3" />
<line x1="698.00" y1="717.50" x2="744.60" y2="717.50" stroke="#111" stroke-width="1.3" />
<line x1="695.00" y1="751.25" x2="744.60" y2="751.25" stroke="#111" stroke-width="1.3" />
<line x1="694.00" y1="762.50" x2="744.60" y2="762.50" stroke="#111" stroke-width="1.3" />
<line x1="691.20" y1="785.50" x2="744.60" y2="785.50" stroke="#111" stroke-width="1.3" />
<line x1="692.00" y1="819.30" x2="744.60" y2="819.30" stroke="#111" stroke-width="1.3" />
<line x1="698.00" y1="853.10" x2="744.60" y2="853.10" stroke="#111" stroke-width="1.3" />
<line x1="699.00" y1="886.30" x2="744.60" y2="886.30" stroke="#111" stroke-width="1.3" />
<line x1="693.00" y1="920.70" x2="744.60" y2="920.70" stroke="#111" stroke-width="1.3" />
<line x1="734.40" y1="615.70" x2="734.40" y2="649.70" stroke="#111" stroke-width="1.3" />
<line x1="734.40" y1="683.75" x2="734.40" y2="717.50" stroke="#111" stroke-width="1.3" />
<line x1="734.40" y1="751.25" x2="734.40" y2="785.50" stroke="#111" stroke-width="1.3" />
<line x1="734.40" y1="819.30" x2="734.40" y2="853.10" stroke="#111" stroke-width="1.3" />
<line x1="734.40" y1="886.30" x2="734.40" y2="920.70" stroke="#111" stroke-width="1.3" />
<line x1="700.30" y1="717.50" x2="700.30" y2="751.25" stroke="#111" stroke-width="1.3" />
<line x1="700.30" y1="785.50" x2="700.30" y2="819.30" stroke="#111" stroke-width="1.3" />
<line x1="700.30" y1="853.10" x2="700.30" y2="886.30" stroke="#111" stroke-width="1.3" />
<line x1="700.30" y1="920.70" x2="700.30" y2="951.00" stroke="#111" stroke-width="1.3" />
<line x1="738.70" y1="581.80" x2="744.60" y2="581.80" stroke="#111" stroke-width="1.2" />
<line x1="744.60" y1="586.90" x2="756.00" y2="602.90" stroke="#111" stroke-width="1.3" />
<line x1="686.00" y1="951.10" x2="974.80" y2="951.10" stroke="#111" stroke-width="1.4" />
<line x1="744.60" y1="903.80" x2="974.80" y2="903.80" stroke="#111" stroke-width="1.45" />
<line x1="744.60" y1="910.80" x2="974.80" y2="910.80" stroke="#111" stroke-width="1.45" />
<line x1="974.80" y1="620.00" x2="974.80" y2="910.80" stroke="#111" stroke-width="1.45" />
<path d="M966.25,620 L966.25,660.6 L974.8,660.6" stroke="#111" stroke-width="1.45" fill="none" />
<path d="M744.6,603.4 L767,603.4 L767,619.4" stroke="#111" stroke-width="1.45" fill="none" />
<line x1="744.60" y1="619.40" x2="775.00" y2="619.40" stroke="#111" stroke-width="1.45" />
<path d="M753.1,619.4 L753.1,660.6 L744.6,660.6" stroke="#111" stroke-width="1.45" fill="none" />
<path d="M963,619.6 L963,603.6 L984,603.6 Q990.7,603.8 990.7,611 L990.7,619.6 L956,619.6" stroke="#111" stroke-width="1.45" fill="none" />
<path d="M757.5,912 L761.7,919.3 L761.7,944 M777.2,912 L774.4,919.3 L774.4,944 M761.7,919.3 L774.4,919.3" stroke="#111" stroke-width="1.45" fill="none" />
<rect x="756.60" y="944.00" width="21.40" height="7.10" rx="0" stroke="#111" stroke-width="1.45" fill="none"/>
<path d="M933.5,912 L939,919.3 L939,944 M954.6,912 L950.4,919.3 L950.4,944 M939,919.3 L950.4,919.3" stroke="#111" stroke-width="1.45" fill="none" />
<rect x="933.50" y="944.00" width="22.00" height="7.10" rx="0" stroke="#111" stroke-width="1.45" fill="none"/>
<line x1="744.80" y1="956.00" x2="744.80" y2="987.00" stroke="#111" stroke-width="1.2" />
<line x1="974.80" y1="915.00" x2="974.80" y2="987.00" stroke="#111" stroke-width="1.2" />
<line x1="748.00" y1="980.40" x2="842.00" y2="980.40" stroke="#111" stroke-width="1.1" />
<line x1="903.00" y1="980.40" x2="972.00" y2="980.40" stroke="#111" stroke-width="1.1" />
<polygon points="741.40,980.40 760.40,977.65 760.40,983.15" fill="#111"/>
<polygon points="978.00,980.40 959.00,983.15 959.00,977.65" fill="#111"/>
<text transform="translate(873.00,979.50) rotate(0)" x="0" y="11.73" text-anchor="middle" font-size="34" fill="#111" stroke="#111" stroke-width="0.55" font-weight="normal" textLength="53.5" lengthAdjust="spacingAndGlyphs">560</text>
<line x1="763.75" y1="600.30" x2="967.50" y2="600.30" stroke="#111" stroke-width="1.45" />
<path d="M763.75,600.3 L763.75,602.2 L771,603.3 L771.8,605.6 L773.3,606.3 L773.6,609.4 L774.6,610 L781.3,675 Q782.5,684.6 790.5,685 L942,685 Q950,684.6 951.2,675 L957.6,610 L958.8,609.5 L959.5,605.5 L961,604 L967.5,602.8 L967.5,600.3" stroke="#111" stroke-width="1.45" fill="none" />
<path d="M777.5,600.3 L784.5,672.5 Q785.5,678.6 791.5,679 L865,681 L939.5,680 Q946.5,679.6 947.5,672.5 L953.75,600.3" stroke="#111" stroke-width="1.45" fill="none" />
<line x1="772.60" y1="605.40" x2="773.40" y2="609.00" stroke="#111" stroke-width="1.8" />
<line x1="959.60" y1="605.40" x2="958.90" y2="609.00" stroke="#111" stroke-width="1.8" />
<path d="M791.9,600.6 Q792.5,609.8 798.5,610.6 L933.5,610.6 Q939.5,609.8 940,600.6" stroke="#111" stroke-width="1.45" fill="none" />
<path d="M794.8,600.6 Q795,603.6 797.5,603.7 L934.5,603.7 Q937,603.6 937.2,600.6" stroke="#111" stroke-width="0.9" fill="none" />
<path d="M828.0,601 L828.0,610 Q830.6,613.8 833.2,610 L833.2,601" stroke="#111" stroke-width="1.5" fill="#fff" />
<line x1="830.60" y1="603.00" x2="830.60" y2="610.50" stroke="#111" stroke-width="0.9" />
<path d="M863.4,601 L863.4,610 Q866,613.8 868.6,610 L868.6,601" stroke="#111" stroke-width="1.5" fill="#fff" />
<line x1="866.00" y1="603.00" x2="866.00" y2="610.50" stroke="#111" stroke-width="0.9" />
<path d="M898.6999999999999,601 L898.6999999999999,610 Q901.3,613.8 903.9,610 L903.9,601" stroke="#111" stroke-width="1.5" fill="#fff" />
<line x1="901.30" y1="603.00" x2="901.30" y2="610.50" stroke="#111" stroke-width="0.9" />
<rect x="853.60" y="614.00" width="23.80" height="13.00" rx="1.4" stroke="#111" stroke-width="1.7" fill="none"/>
<rect x="855.70" y="616.00" width="19.60" height="9.00" rx="0.6" stroke="#111" stroke-width="0.7" fill="none"/>
<path d="M941.25,599.8 L941.25,595 Q941.25,593 943.25,593 L959.25,593 Q961.25,593 961.25,595 L961.25,599.8 Z" stroke="#111" stroke-width="1.45" fill="#f4f4f4" />
<line x1="941.25" y1="597.60" x2="961.25" y2="597.60" stroke="#111" stroke-width="0.8" />
<rect x="841.00" y="686.00" width="50.50" height="2.80" rx="0" stroke="#111" stroke-width="1.2" fill="#ddd"/>
<path d="M845,690 C846,697 849,701 855,705.5" stroke="#111" stroke-width="1.45" fill="none" />
<path d="M887.5,690 C886.5,697 883.5,701 877.5,705.5" stroke="#111" stroke-width="1.45" fill="none" />
<rect x="852.50" y="705.50" width="26.25" height="3.25" rx="0" stroke="#111" stroke-width="1.1" fill="none"/>
<line x1="801.25" y1="708.00" x2="835.00" y2="708.00" stroke="#111" stroke-width="1.45" />
<line x1="801.25" y1="727.00" x2="835.00" y2="727.00" stroke="#111" stroke-width="1.45" />
<rect x="835.00" y="705.50" width="7.00" height="19.50" rx="1" stroke="#111" stroke-width="1.2" fill="#222"/>
<rect x="836.3" y="708.3" width="4.4" height="2.7" fill="#fff"/>
<rect x="836.3" y="713.2" width="4.4" height="2.7" fill="#fff"/>
<rect x="836.3" y="718.1" width="4.4" height="2.7" fill="#fff"/>
<line x1="842.00" y1="708.00" x2="855.00" y2="708.00" stroke="#111" stroke-width="1.45" />
<line x1="842.00" y1="722.30" x2="858.75" y2="722.30" stroke="#111" stroke-width="1.45" />
<path d="M858.75,725.00 L858.75,720.00 L865.00,720.00 L865.00,716.25 L870.00,716.25 L871.25,712.50 L876.25,712.50 L877.50,716.25 L882.50,718.00 L882.50,725.00 Z" stroke="#111" stroke-width="1.1" fill="none" />
<line x1="845.00" y1="728.90" x2="1026.00" y2="728.90" stroke="#111" stroke-width="1.2" />
<path d="M954.60,660.00 C954.72,663.00 955.35,672.50 955.30,678.00 C955.25,683.50 955.43,688.50 954.30,693.00 C953.17,697.50 952.55,700.92 948.50,705.00 C944.45,709.08 937.25,713.96 930.00,717.50 C922.75,721.04 913.33,723.75 905.00,726.25 C896.67,728.75 888.33,730.83 880.00,732.50 C871.67,734.17 862.50,735.00 855.00,736.25 C847.50,737.50 839.17,740.00 835.00,740.00 C830.83,740.00 830.42,737.92 830.00,736.25 C829.58,734.58 830.42,731.88 832.50,730.00 C834.58,728.12 838.12,726.04 842.50,725.00 C846.88,723.96 856.04,723.96 858.75,723.75" stroke="#111" stroke-width="1.1" fill="none" />
<path d="M953.00,661.00 C953.00,663.83 953.22,672.83 953.00,678.00 C952.78,683.17 952.95,687.78 951.70,692.00 C950.45,696.22 949.28,699.37 945.50,703.30 C941.72,707.23 935.92,712.10 929.00,715.60 C922.08,719.10 912.25,721.82 904.00,724.30 C895.75,726.78 887.73,728.85 879.50,730.50 C871.27,732.15 861.93,732.98 854.60,734.20 C847.27,735.42 839.27,737.50 835.50,737.80 C831.73,738.10 832.20,737.13 832.00,736.00 C831.80,734.87 832.47,732.53 834.30,731.00 C836.13,729.47 838.92,727.72 843.00,726.80 C847.08,725.88 856.12,725.72 858.75,725.50" stroke="#111" stroke-width="1.1" fill="none" />
<path d="M786,698.75 L788.3,688.5 L795,688.5 L797.3,698.75" stroke="#111" stroke-width="1" fill="none" />
<circle cx="791.60" cy="686.30" r="2.80" stroke="#111" stroke-width="1.2" fill="none" />
<rect x="780.00" y="698.75" width="23.75" height="6.25" rx="1" stroke="#111" stroke-width="1.2" fill="#222"/>
<rect x="783.39" y="700.15" width="3.39" height="3.45" fill="#fff"/>
<rect x="790.18" y="700.15" width="3.39" height="3.45" fill="#fff"/>
<rect x="796.96" y="700.15" width="3.39" height="3.45" fill="#fff"/>
<line x1="782.50" y1="705.00" x2="782.50" y2="727.50" stroke="#111" stroke-width="1.45" />
<path d="M801.25,705 L801.25,708 L792.5,716.5 L801.25,725.5 L801.25,727.5" stroke="#111" stroke-width="1.45" fill="none" />
<rect x="780.00" y="727.50" width="23.75" height="6.25" rx="1" stroke="#111" stroke-width="1.2" fill="#222"/>
<rect x="783.39" y="728.90" width="3.39" height="3.45" fill="#fff"/>
<rect x="790.18" y="728.90" width="3.39" height="3.45" fill="#fff"/>
<rect x="796.96" y="728.90" width="3.39" height="3.45" fill="#fff"/>
<line x1="801.25" y1="733.75" x2="801.25" y2="754.50" stroke="#111" stroke-width="1.45" />
<path d="M745.5,735.5 L780,735.5 C791,736 798.5,744 800.5,754.5" stroke="#111" stroke-width="1.45" fill="none" />
<path d="M745.5,752 L782.5,752 L782.5,754.5" stroke="#111" stroke-width="1.45" fill="none" />
<rect x="780.00" y="754.50" width="23.75" height="6.00" rx="1" stroke="#111" stroke-width="1.2" fill="#222"/>
<rect x="783.39" y="755.90" width="3.39" height="3.20" fill="#fff"/>
<rect x="790.18" y="755.90" width="3.39" height="3.20" fill="#fff"/>
<rect x="796.96" y="755.90" width="3.39" height="3.20" fill="#fff"/>
<line x1="782.50" y1="760.50" x2="782.50" y2="786.00" stroke="#111" stroke-width="1.45" />
<line x1="801.25" y1="760.50" x2="801.25" y2="786.00" stroke="#111" stroke-width="1.45" />
<path d="M783.5,774 C784,782 789,785.5 792,785.5 C795,785.5 800,782 800.5,774" stroke="#111" stroke-width="1" fill="none" />
<rect x="780.00" y="786.00" width="23.75" height="6.50" rx="1" stroke="#111" stroke-width="1.2" fill="#222"/>
<rect x="783.39" y="787.40" width="3.39" height="3.70" fill="#fff"/>
<rect x="790.18" y="787.40" width="3.39" height="3.70" fill="#fff"/>
<rect x="796.96" y="787.40" width="3.39" height="3.70" fill="#fff"/>
<line x1="802.50" y1="764.50" x2="802.50" y2="772.50" stroke="#111" stroke-width="1.2" />
<line x1="818.00" y1="767.50" x2="861.00" y2="767.50" stroke="#111" stroke-width="1.1" />
<line x1="917.50" y1="767.50" x2="959.00" y2="767.50" stroke="#111" stroke-width="1.1" />
<polygon points="803.00,767.50 819.00,764.75 819.00,770.25" fill="#111"/>
<polygon points="974.25,767.50 958.25,770.25 958.25,764.75" fill="#111"/>
<text transform="translate(890.50,764.50) rotate(0)" x="0" y="11.73" text-anchor="middle" font-size="34" fill="#111" stroke="#111" stroke-width="0.55" font-weight="normal" textLength="53.5" lengthAdjust="spacingAndGlyphs">417</text>
<line x1="987.00" y1="603.50" x2="1026.00" y2="603.50" stroke="#111" stroke-width="1.2" />
<line x1="1020.00" y1="618.00" x2="1020.00" y2="642.50" stroke="#111" stroke-width="1.1" />
<line x1="1020.00" y1="697.50" x2="1020.00" y2="712.50" stroke="#111" stroke-width="1.1" />
<polygon points="1020.00,601.00 1022.75,618.50 1017.25,618.50" fill="#111"/>
<polygon points="1020.00,729.50 1017.25,712.00 1022.75,712.00" fill="#111"/>
<text transform="translate(1020.00,670.00) rotate(-90)" x="0" y="11.73" text-anchor="middle" font-size="34" fill="#111" stroke="#111" stroke-width="0.55" font-weight="normal" textLength="53.5" lengthAdjust="spacingAndGlyphs">306</text>
</svg>
</body></html>
